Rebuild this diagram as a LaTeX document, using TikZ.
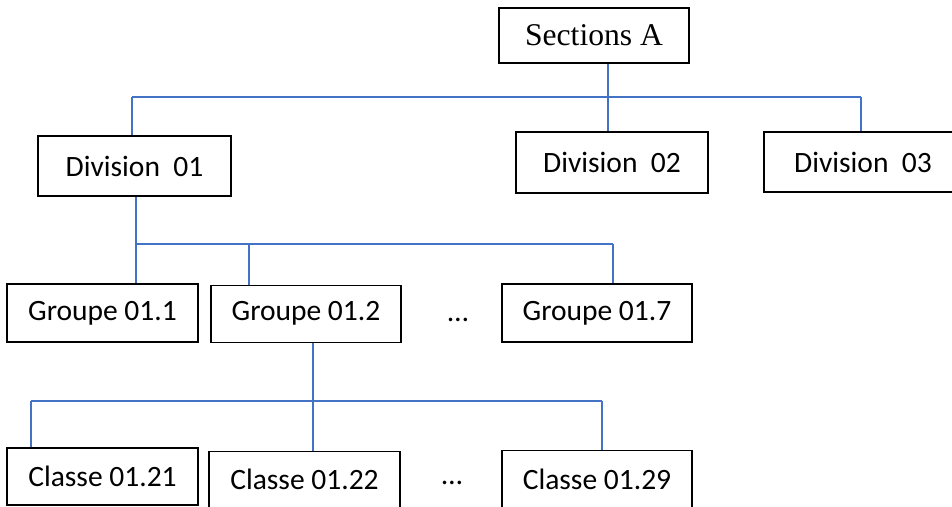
\documentclass[tikz,border=0pt]{standalone}
\usepackage{fontspec}
\setmainfont{Liberation Serif}
\newfontfamily\calibri{Carlito}
\usetikzlibrary{positioning, calc}
\definecolor{lkBlue}{RGB}{68,114,196}
\tikzset{
  topbox/.style={rectangle, draw=black, line width=0.8pt, fill=white,
    font=\fontsize{22.5}{26}\selectfont, inner sep=0pt,
    minimum width=4.75cm, minimum height=1.375cm},
  unitbox/.style={rectangle, draw=black, line width=0.8pt, fill=white,
    font=\calibri\fontsize{21}{25}\selectfont, inner sep=0pt,
    minimum width=4.775cm, minimum height=1.45cm},
  gap/.style={font=\calibri\fontsize{21}{25}\selectfont, inner sep=0pt},
  link/.style={draw=lkBlue, line width=0.9pt},
}

\begin{document}
\begin{tikzpicture}

\useasboundingbox (0,0) rectangle (23.8,-12.675);

%% SECTION
\node[topbox] (sections) at (14.85,-0.8875) {Sections A};

%% DIVISIONS
\node[unitbox, minimum width=4.825cm, minimum height=1.5cm] (div1) at (3.3625,-4.15) {Division~~01};
\node[unitbox, minimum width=4.8cm, minimum height=1.525cm] (div2) at (15.3,-4.0625) {Division~~02};
\node[unitbox, minimum width=4.95cm, minimum height=1.5cm] (div3) at (21.575,-4.05) {Division~~03};

%% GROUPES
\node[unitbox] (grp1) at (2.5625,-7.825) {Groupe 01.1};
\node[unitbox, minimum width=4.75cm, minimum height=1.425cm] (grp2) at (7.65,-7.84) {Groupe 01.2};
\node[gap] (grpdots) at (11.45,-8.0) {…};
\node[unitbox, minimum width=4.75cm] (grp7) at (14.925,-7.825) {Groupe 01.7};

%% CLASSES
\node[unitbox, minimum height=1.425cm] (cls1) at (2.5625,-11.9125) {Classe 01.21};
\node[unitbox, minimum width=4.775cm, minimum height=1.425cm] (cls2) at (7.6125,-11.99) {Classe 01.22};
\node[gap] (clsdots) at (11.3,-12.075) {…};
\node[unitbox, minimum width=4.75cm, minimum height=1.425cm] (cls9) at (14.925,-11.975) {Classe 01.29};

%% BUS POINTS
\coordinate (busAl) at (3.3,-2.425);
\coordinate (busAm) at (15.2,-2.425);
\coordinate (busAr) at (21.525,-2.425);
\coordinate (busBl) at (3.4,-6.1);
\coordinate (busBm) at (6.225,-6.1);
\coordinate (busBr) at (15.325,-6.1);
\coordinate (busCl) at (0.775,-10.025);
\coordinate (busCm) at (7.825,-10.025);
\coordinate (busCr) at (15.05,-10.025);

%% LINKS -- sections to divisions
\draw[link] (busAl) -- (busAr);
\draw[link] (sections.south -| busAm) -- (div2.north -| busAm);
\draw[link] (busAl) -- (div1.north -| busAl);
\draw[link] (busAr) -- (div3.north -| busAr);

%% LINKS -- division 01 to groupes
\draw[link] (busBl) -- (busBr);
\draw[link] (div1.south -| busBl) -- (grp1.north -| busBl);
\draw[link] (busBm) -- (grp2.north -| busBm);
\draw[link] (busBr) -- (grp7.north -| busBr);

%% LINKS -- groupe 01.2 to classes
\draw[link] (busCl) -- (busCr);
\draw[link] (grp2.south -| busCm) -- (cls2.north -| busCm);
\draw[link] (busCl) -- (cls1.north -| busCl);
\draw[link] (busCr) -- (cls9.north -| busCr);

\end{tikzpicture}
\end{document}
